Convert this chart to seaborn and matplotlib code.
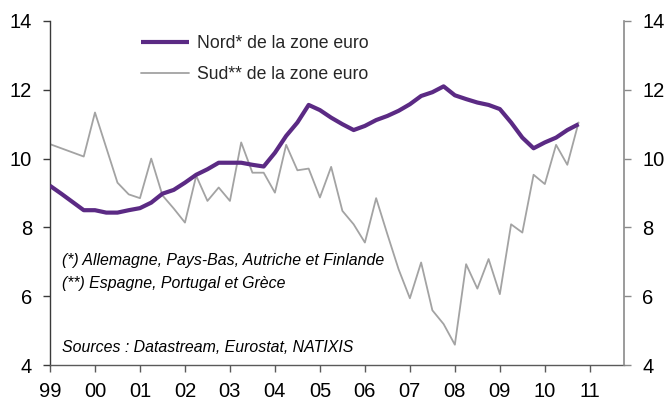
import numpy as np
import pandas as pd
import matplotlib
matplotlib.use("Agg")
import matplotlib.pyplot as plt
import seaborn as sns

# ---- data (quarterly, 1999Q1 .. 2010Q4) ----
quarters = pd.period_range("1999Q1", "2010Q4", freq="Q")
nord = [9.21, 8.98, 8.74, 8.50,
        8.50, 8.43, 8.43, 8.50,
        8.56, 8.72, 8.98, 9.09,
        9.30, 9.53, 9.69, 9.88,
        9.88, 9.88, 9.82, 9.77,
        10.17, 10.66, 11.05, 11.56,
        11.41, 11.19, 11.00, 10.83,
        10.95, 11.12, 11.24, 11.39,
        11.58, 11.82, 11.93, 12.10,
        11.84, 11.73, 11.63, 11.56,
        11.44, 11.05, 10.61, 10.30,
        10.47, 10.61, 10.83, 11.00]
sud = [10.42, 10.30, 10.18, 10.06,
       11.34, 10.32, 9.30, 8.96,
       8.85, 10.00, 8.93, 8.55,
       8.14, 9.50, 8.77, 9.16,
       8.77, 10.47, 9.59, 9.59,
       9.01, 10.40, 9.66, 9.71,
       8.87, 9.76, 8.48, 8.09,
       7.56, 8.85, 7.80, 6.78,
       5.94, 6.98, 5.59, 5.19,
       4.59, 6.93, 6.22, 7.08,
       6.06, 8.09, 7.85, 9.53,
       9.26, 10.40, 9.82, 11.05]
year_ticks = list(range(1999, 2012))
year_labels = ["99", "00", "01", "02", "03", "04", "05", "06", "07", "08", "09", "10", "11"]
y_ticks = [4, 6, 8, 10, 12, 14]
label_nord = "Nord* de la zone euro"
label_sud = "Sud** de la zone euro"
note1 = "(*) Allemagne, Pays-Bas, Autriche et Finlande"
note2 = "(**) Espagne, Portugal et Grèce"
source = "Sources : Datastream, Eurostat, NATIXIS"

t = quarters.year + (quarters.quarter - 1) / 4.0
df = pd.DataFrame({"t": np.asarray(t, dtype=float), "nord": nord, "sud": sud})

sns.set_theme(style="white")
plt.rcParams["font.family"] = ["Liberation Sans", "DejaVu Sans"]

PURPLE = "#5b2a84"
GREY = "#a3a3a3"

fig = plt.figure(figsize=(6.66, 4.11), dpi=100)
ax = fig.add_axes([50 / 666, 1 - 365 / 411, 574 / 666, 344 / 411])
ax.set_facecolor("white")

sns.lineplot(data=df, x="t", y="sud", ax=ax, color=GREY, linewidth=1.3,
             label=label_sud, zorder=2)
sns.lineplot(data=df, x="t", y="nord", ax=ax, color=PURPLE, linewidth=3.0,
             label=label_nord, zorder=3, solid_capstyle="butt")

ax.set_xlim(1999, 2011.76)
ax.set_ylim(4, 14)
ax.set_xticks(year_ticks)
ax.set_xticklabels(year_labels)
ax.set_yticks(y_ticks)
ax.set_yticklabels([str(v) for v in y_ticks])
ax.set_xlabel("")
ax.set_ylabel("")

ax2 = ax.twinx()
ax2.set_ylim(4, 14)
ax2.set_yticks(y_ticks)
ax2.set_yticklabels([str(v) for v in y_ticks])

for a in (ax, ax2):
    a.spines["top"].set_visible(False)
    a.grid(False)
ax.spines["right"].set_visible(False)
ax2.spines["left"].set_visible(False)
ax2.spines["bottom"].set_visible(False)
ax.spines["left"].set_color("#3a3a3a")
ax.spines["bottom"].set_color("#5a5a5a")
ax2.spines["right"].set_color("#8a8a8a")
for sp in ("left", "bottom"):
    ax.spines[sp].set_linewidth(1.0)
ax2.spines["right"].set_linewidth(1.2)

ax.tick_params(axis="y", which="major", direction="out", length=5, width=1,
               color="#3a3a3a", labelsize=14.5, labelcolor="black", pad=8, left=True)
ax.tick_params(axis="x", which="major", direction="out", length=5, width=1,
               color="#5a5a5a", labelsize=14.5, labelcolor="black", pad=7, bottom=True)
ax2.tick_params(axis="y", which="major", direction="out", length=5, width=1,
                color="#8a8a8a", labelsize=14.5, labelcolor="black", pad=8, right=True)

# legend: Nord first, then Sud
handles, labels = ax.get_legend_handles_labels()
order = [labels.index(label_nord), labels.index(label_sud)]
leg = ax.legend([handles[i] for i in order], [labels[i] for i in order],
                loc="upper left", bbox_to_anchor=(141 / 666, 1 - 35 / 411),
                bbox_transform=fig.transFigure, frameon=False, fontsize=12.7,
                handlelength=2.7, handletextpad=0.5, labelspacing=0.78,
                borderpad=0, borderaxespad=0)

fig.text(62 / 666, 1 - 261 / 411, note1, fontsize=11.4, style="italic",
         ha="left", va="center", color="black")
fig.text(62 / 666, 1 - 283 / 411, note2, fontsize=11.4, style="italic",
         ha="left", va="center", color="black")
fig.text(62 / 666, 1 - 347 / 411, source, fontsize=11.4, style="italic",
         ha="left", va="center", color="black")

fig.savefig("out.png", dpi=100, facecolor="white")
